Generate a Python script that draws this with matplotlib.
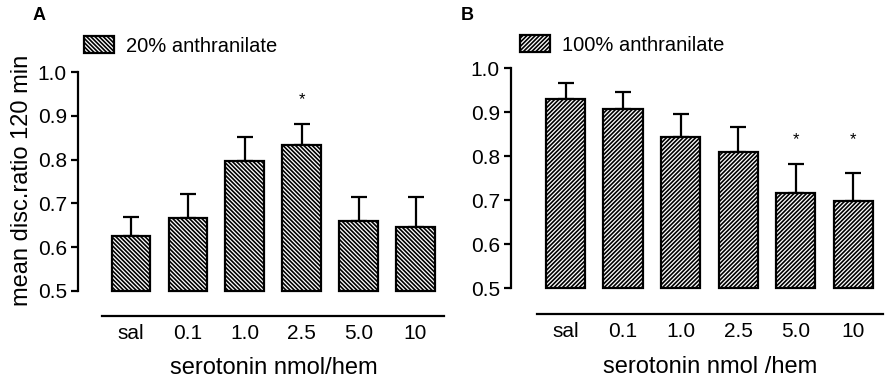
import matplotlib
matplotlib.use('Agg')
import matplotlib.pyplot as plt
import numpy as np

plt.rcParams['font.family'] = ['Liberation Sans', 'DejaVu Sans']
plt.rcParams['hatch.linewidth'] = 1.2

doses = ['sal', '0.1', '1.0', '2.5', '5.0', '10']

# panel A: 20% anthranilate
mean_a = [0.626, 0.666, 0.796, 0.833, 0.660, 0.645]
upper_a = [0.670, 0.721, 0.852, 0.881, 0.714, 0.714]
star_a = [False, False, False, True, False, False]

# panel B: 100% anthranilate
mean_b = [0.930, 0.907, 0.844, 0.810, 0.717, 0.699]
upper_b = [0.967, 0.947, 0.896, 0.867, 0.782, 0.761]
star_b = [False, False, False, False, True, True]

W, H = 892, 385
fig = plt.figure(figsize=(W / 100, H / 100), dpi=100)


def panel(rect, means, uppers, stars, star_y, hatch, legend_txt, xlabel,
          letter, letter_xy, leg_xy, ybot, xleft, xline_left, xright,
          ylabel=None):
    l, b, r, t = rect
    ax = fig.add_axes([l / W, 1 - b / H, (r - l) / W, (b - t) / H])
    x = np.arange(len(means))
    means = np.array(means)
    uppers = np.array(uppers)
    ax.errorbar(x, means, yerr=[np.zeros_like(means), uppers - means],
                fmt='none', ecolor='black', elinewidth=1.6, capsize=6,
                capthick=1.6, zorder=1)
    bars = ax.bar(x, means - 0.5, bottom=0.5, width=0.68, color='white',
                  edgecolor='black', linewidth=1.6, hatch=hatch, zorder=2,
                  label=legend_txt)
    for xi, s in zip(x, stars):
        if s:
            ax.text(xi, star_y, '*', ha='center', va='center', fontsize=12)
    ax.set_xlim(xleft, xright)
    ax.set_ylim(ybot, 1.0)
    ax.set_yticks([0.5, 0.6, 0.7, 0.8, 0.9, 1.0])
    ax.set_yticklabels(['0.5', '0.6', '0.7', '0.8', '0.9', '1.0'])
    ax.set_xticks(x)
    ax.set_xticklabels(doses)
    ax.spines['top'].set_visible(False)
    ax.spines['right'].set_visible(False)
    ax.spines['left'].set_bounds(0.5, 1.0)
    ax.spines['bottom'].set_bounds(xline_left, xright)
    for sp in ('left', 'bottom'):
        ax.spines[sp].set_linewidth(1.6)
    ax.tick_params(axis='y', length=5, width=1.6, pad=3, labelsize=15)
    ax.tick_params(axis='x', length=0, pad=6, labelsize=15)
    ax.set_xlabel(xlabel, fontsize=17)
    ax.xaxis.label.set_va('center')
    ax.xaxis.set_label_coords(0.535, -0.215)
    if ylabel:
        ax.set_ylabel(ylabel, fontsize=17)
        ax.yaxis.label.set_va('center')
        ax.yaxis.set_label_coords(-0.153, 0.557)
    fig.text(letter_xy[0] / W, 1 - letter_xy[1] / H, letter, fontsize=13,
             fontweight='bold', ha='center', va='center')
    ax.legend(handles=[bars], loc='center left',
              bbox_to_anchor=(leg_xy[0] / W, 1 - leg_xy[1] / H),
              bbox_transform=fig.transFigure, frameon=False, fontsize=14.5,
              handlelength=1.5, handleheight=0.9, handletextpad=0.6,
              borderpad=0, borderaxespad=0)
    return ax


panel((78, 315.7, 444, 72), mean_a, upper_a, star_a, 0.936, '\\' * 8,
      '20% anthranilate', 'serotonin nmol/hem', 'A', (39.5, 16), (84, 46),
      0.4436, -0.93, -0.51, 5.5, ylabel='mean disc.ratio 120 min')
panel((511, 314, 883, 68.3), mean_b, upper_b, star_b, 0.837, '/' * 8,
      '100% anthranilate', 'serotonin nmol /hem', 'B', (467, 16), (520, 45),
      0.4416, -0.948, -0.496, 5.52)

fig.savefig('out.png', dpi=100)
